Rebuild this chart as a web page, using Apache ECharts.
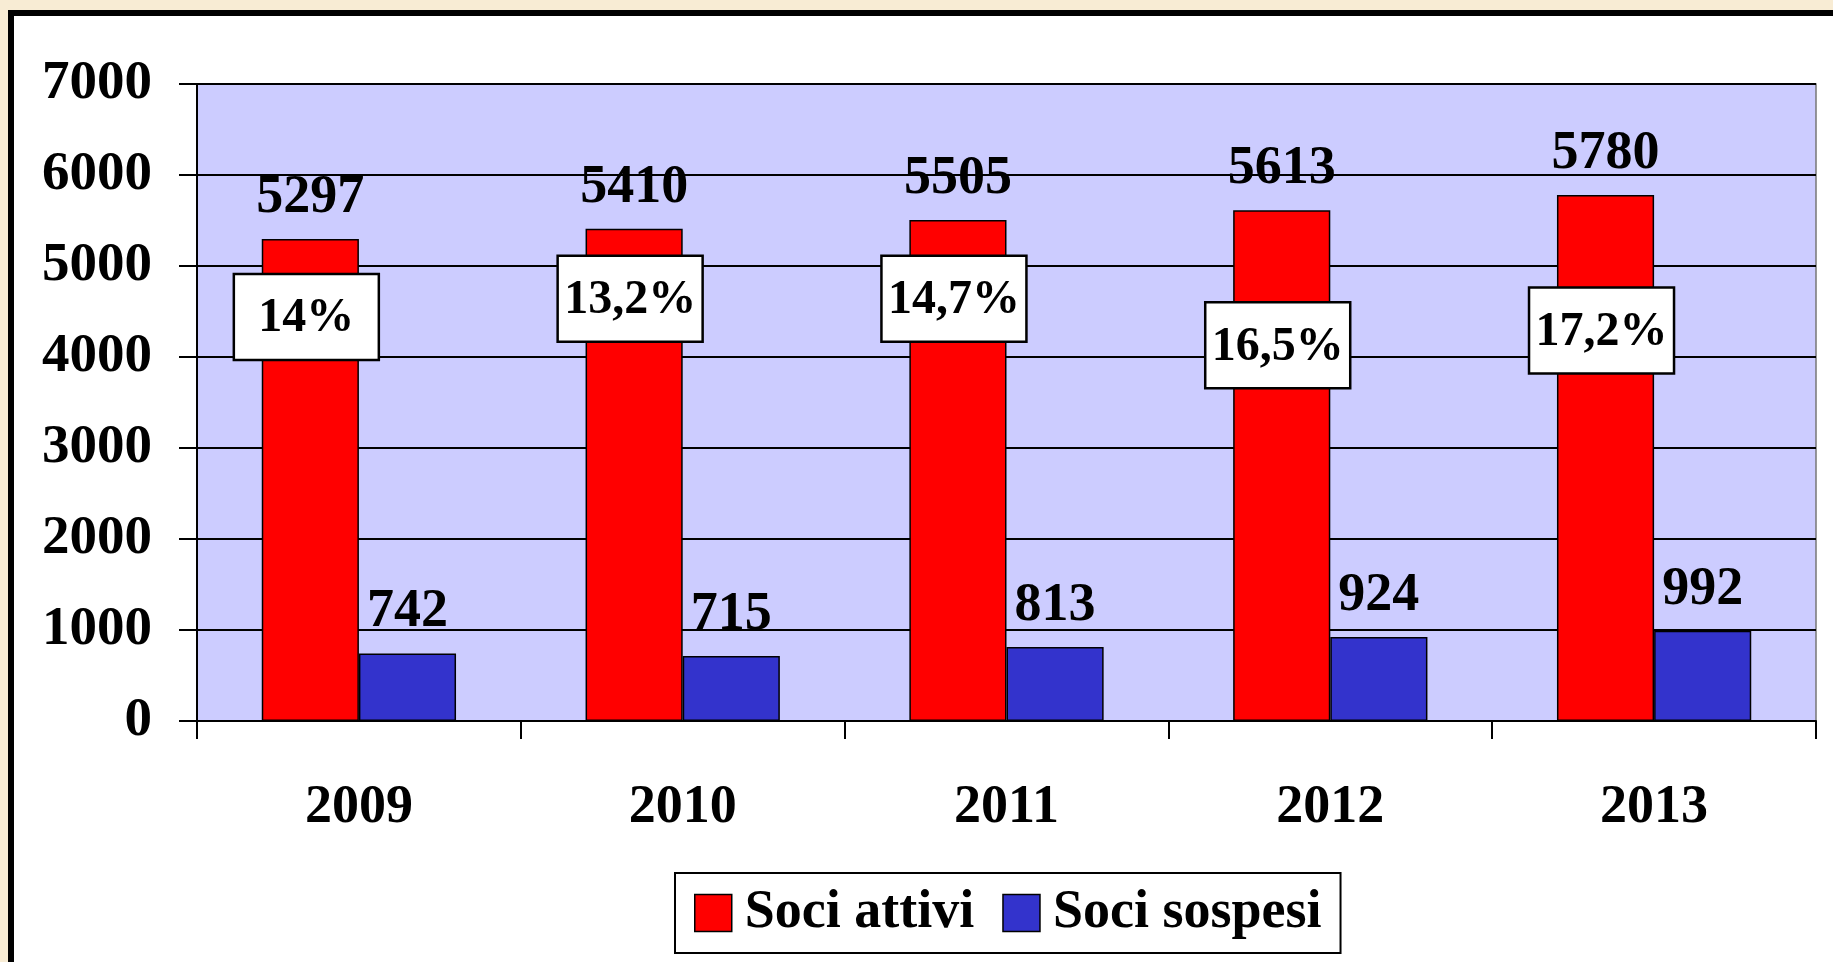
<!DOCTYPE html>
<html>
<head>
<meta charset="utf-8">
<script src="https://cdn.jsdelivr.net/npm/echarts@6/dist/echarts.min.js"></script>
<style>
  html, body { margin: 0; padding: 0; background: #f8ecd4; overflow: hidden; }
  #frame {
    position: absolute; left: 8px; top: 10px; width: 1900px; height: 1000px;
    background: #fff; border-left: 6px solid #000; border-top: 6px solid #000;
  }
  #main { position: absolute; left: 0; top: 0; width: 1833px; height: 962px; }
</style>
</head>
<body>
<div id="frame"></div>
<div id="main"></div>
<script>
// dati
var years = ['2009', '2010', '2011', '2012', '2013'];
var attivi = [5297, 5410, 5505, 5613, 5780];
var sospesi = [742, 715, 813, 924, 992];
var pctLabels = ['14%', '13,2%', '14,7%', '16,5%', '17,2%'];
// altezza (in valori asse) dove stanno i riquadri percentuali
var pctAt = [4440, 4640, 4640, 4130, 4290];

var FONT = '"Liberation Serif", "Times New Roman", serif';

var myChart = echarts.init(document.getElementById('main'), null, {renderer: 'canvas'});

var valueLabel = {
  show: true,
  position: 'top',
  distance: 14,
  color: '#000',
  fontFamily: FONT,
  fontWeight: 'bold',
  fontSize: 54
};

var option = {
  animation: false,
  backgroundColor: 'transparent',
  grid: {
    left: 197, top: 84, right: 17, bottom: 241,
    show: true,
    backgroundColor: '#ccccff',
    borderColor: '#777',
    borderWidth: 1.5
  },
  legend: {
    data: ['Soci attivi', 'Soci sospesi'],
    left: 675, top: 873,
    icon: 'rect',
    itemWidth: 37, itemHeight: 37,
    itemGap: 28,
    padding: [13, 19],
    backgroundColor: '#fff',
    borderColor: '#000',
    borderWidth: 2,
    itemStyle: {borderColor: '#000', borderWidth: 1.5},
    textStyle: {
      color: '#000', fontFamily: FONT, fontWeight: 'bold', fontSize: 54,
      padding: [0, 0, 0, 8]
    }
  },
  xAxis: {
    type: 'category',
    data: years,
    axisLine: {lineStyle: {color: '#000', width: 2}},
    axisTick: {show: true, length: 18, lineStyle: {color: '#000', width: 2}},
    axisLabel: {
      color: '#000', fontFamily: FONT, fontWeight: 'bold', fontSize: 54, margin: 60
    }
  },
  yAxis: {
    type: 'value',
    min: 0, max: 7000, interval: 1000,
    axisLine: {show: true, lineStyle: {color: '#000', width: 2}},
    axisTick: {show: true, length: 18, lineStyle: {color: '#000', width: 2}},
    splitLine: {lineStyle: {color: '#000', width: 2}},
    axisLabel: {
      color: '#000', fontFamily: FONT, fontWeight: 'bold', fontSize: 55, margin: 45,
      padding: [8, 0, 0, 0],
      formatter: function (v) { return String(v); }
    }
  },
  series: [
    {
      name: 'Soci attivi',
      type: 'bar',
      data: attivi,
      barGap: 0,
      barCategoryGap: '40%',
      itemStyle: {color: '#ff0000', borderColor: '#000', borderWidth: 1.5},
      label: valueLabel
    },
    {
      name: 'Soci sospesi',
      type: 'bar',
      data: sospesi,
      itemStyle: {color: '#3333cc', borderColor: '#000', borderWidth: 1.5},
      label: valueLabel
    },
    {
      name: 'pct',
      type: 'custom',
      z: 5,
      data: pctAt.map(function (v, i) { return [i, v, pctLabels[i]]; }),
      renderItem: function (params, api) {
        var p = api.coord([api.value(0), api.value(1)]);
        var band = api.size([1, 0])[0];
        // centro della barra rossa (barre = 60% della banda), un po' a sinistra
        var cx = p[0] - band * 0.15 - 4;
        var cy = p[1];
        var w = 145, h = 86;
        return {
          type: 'group',
          children: [
            {
              type: 'rect',
              shape: {x: cx - w / 2, y: cy - h / 2, width: w, height: h},
              style: {fill: '#fff', stroke: '#000', lineWidth: 2.5}
            },
            {
              type: 'text',
              style: {
                text: api.value(2),
                x: cx, y: cy + 2,
                align: 'center',
                verticalAlign: 'middle',
                fill: '#000',
                font: 'bold 48px ' + FONT
              }
            }
          ]
        };
      }
    }
  ]
};

myChart.setOption(option);
</script>
</body>
</html>
